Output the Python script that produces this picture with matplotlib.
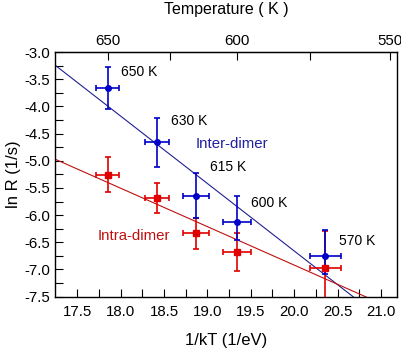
import numpy as np
import matplotlib
matplotlib.use('Agg')
import matplotlib.pyplot as plt

plt.rcParams['font.family'] = ['Liberation Sans', 'DejaVu Sans']

k_B = 8.617e-5  # eV/K

# data
temps = [650, 630, 615, 600, 570]
inv_kT = [17.85, 18.42, 18.87, 19.34, 20.36]
xerr = [0.13, 0.14, 0.15, 0.16, 0.18]

inter_lnR = [-3.66, -4.66, -5.65, -6.12, -6.76]
inter_err_lo = [0.39, 0.46, 0.40, 0.33, 0.32]
inter_err_hi = [0.39, 0.45, 0.42, 0.47, 0.48]

intra_lnR = [-5.26, -5.69, -6.33, -6.68, -6.97]
intra_err_lo = [0.32, 0.27, 0.30, 0.35, 0.68]
intra_err_hi = [0.32, 0.28, 0.27, 0.35, 0.68]

# linear fits (slope, intercept at x = 0)
inter_fit = [-1.24, -3.24 + 1.24 * 17.243]
intra_fit = [-0.707, -4.97 + 0.707 * 17.243]

# temperature label positions (y)
label_y = [-3.37, -4.26, -5.12, -5.78, -6.47]

blue = '#0000c8'
red = '#e00000'

fig = plt.figure(figsize=(4.01, 3.49), dpi=100)
ax = fig.add_axes([0.137, 0.150, 0.854, 0.701])

xl = np.array([17.243, 21.19])
ax.plot(xl, inter_fit[0] * xl + inter_fit[1], color='#202090', lw=0.8)
ax.plot(xl, intra_fit[0] * xl + intra_fit[1], color='#c01010', lw=0.8)

ax.errorbar(inv_kT, intra_lnR, yerr=[intra_err_lo, intra_err_hi], xerr=xerr,
            fmt='s', color=red, ms=4.5, elinewidth=1.2, capsize=2.2, capthick=1.2)
ax.errorbar(inv_kT, inter_lnR, yerr=[inter_err_lo, inter_err_hi], xerr=xerr,
            fmt='o', color=blue, ms=4.0, elinewidth=1.2, capsize=2.2, capthick=1.2)

ax.set_xlim(17.243, 21.19)
ax.set_ylim(-7.5, -3.0)
xt = np.arange(17.5, 21.01, 0.5)
yt = np.arange(-7.5, -2.99, 0.5)
ax.set_xticks(xt)
ax.set_xticks(np.arange(17.75, 21.0, 0.5), minor=True)
ax.set_yticks(yt)
ax.set_yticks(np.arange(-7.25, -3.0, 0.5), minor=True)
ax.tick_params(which='both', direction='in', length=6, width=0.8, labelsize=10.8,
               top=False, right=False)
ax.tick_params(axis='x', pad=6)
ax.set_xticklabels(['%.1f' % v for v in xt])
ax.set_yticklabels(['%.1f' % v for v in yt])
for s in ax.spines.values():
    s.set_linewidth(1.0)

conv = lambda x: 1.0 / (k_B * np.asarray(x, dtype=float))
top = ax.secondary_xaxis('top', functions=(conv, conv))
top.set_xticks([650, 600, 550])
top.set_xticks([625, 575], minor=True)
top.tick_params(which='both', direction='in', length=6, width=0.8, labelsize=10.8, pad=3)
top.set_xlabel('Temperature ( K )', fontsize=11.5, labelpad=14)

ax.set_xlabel('1/kT (1/eV)', fontsize=12, labelpad=10)
ax.set_ylabel('ln R (1/s)', fontsize=12, labelpad=2)

for T, x, y in zip(temps, inv_kT, label_y):
    ax.text(x + 0.16, y, '%d K' % T, fontsize=10, va='center')
ax.text(18.86, -4.70, 'Inter-dimer', fontsize=10.8, va='center', color='#2020a0')
ax.text(17.73, -6.38, 'Intra-dimer', fontsize=10.8, va='center', color='#c01010')

fig.savefig('out.png', dpi=100)
